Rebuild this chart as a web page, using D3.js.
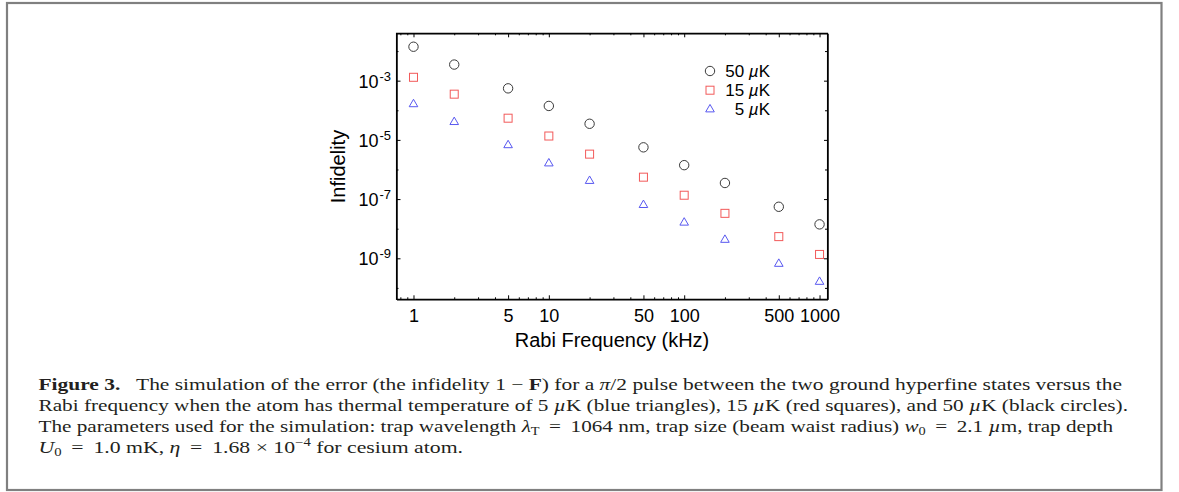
<!DOCTYPE html>
<html>
<head>
<meta charset="utf-8">
<script src="https://cdn.jsdelivr.net/npm/d3@7"></script>
<style>
  body { margin: 0; background: #fff; }
  svg { display: block; }
  .axis path, .axis line { stroke: #000; }
  .axis text { font-family: "Liberation Sans", Arial, sans-serif; font-size: 18px; fill: #000; }
</style>
</head>
<body>
<div id="chart"></div>
<script>
// Rabi frequency (kHz) for every simulated point
const rabiFreq = [1, 2, 5, 10, 20, 50, 100, 200, 500, 1000];

// Infidelity, one array per temperature
const infid50uK = [1.4e-2, 3.5e-3, 5.5e-4, 1.4e-4, 3.5e-5, 5.6e-6, 1.4e-6, 3.5e-7, 5.5e-8, 1.4e-8];
const infid15uK = [1.3e-3, 3.5e-4, 5.4e-5, 1.35e-5, 3.3e-6, 5.5e-7, 1.35e-7, 3.3e-8, 5.4e-9, 1.35e-9];
const infid5uK  = [1.6e-4, 4.0e-5, 6.6e-6, 1.6e-6, 4.1e-7, 6.3e-8, 1.6e-8, 4.2e-9, 6.5e-10, 1.6e-10];

// axis ticks
const xTickLabels = [1, 5, 10, 50, 100, 500, 1000];
const yTickExponents = [-3, -5, -7, -9];
const yMinorExponents = [-2, -4, -6, -8, -10];

const legendLabels = ["50 \u00b5K", "15 \u00b5K", "5 \u00b5K"];

const width = 1179, height = 492;
const margin = { left: 396.5, right: 1179 - 827.5, top: 33.3, bottom: 492 - 299.3 };

const svg = d3.select("#chart").append("svg")
    .attr("width", width)
    .attr("height", height);

// figure frame
svg.append("rect")
    .attr("x", 7).attr("y", 3)
    .attr("width", 1154.5).attr("height", 487)
    .attr("fill", "none")
    .attr("stroke", "#808080")
    .attr("stroke-width", 2.2);

const x = d3.scaleLog()
    .domain([0.749, 1145])
    .range([margin.left, width - margin.right]);

const y = d3.scaleLog()
    .domain([Math.pow(10, -10.385), Math.pow(10, -1.4)])
    .range([height - margin.bottom, margin.top]);

// minor x ticks: 1..9 in each decade
const xMinor = [];
for (let d = -1; d <= 3; d++) {
    for (let k = 1; k <= 9; k++) {
        const v = k * Math.pow(10, d);
        if (v >= x.domain()[0] && v <= x.domain()[1] && xTickLabels.indexOf(v) < 0) xMinor.push(v);
    }
}
const yMajorVals = yTickExponents.map(e => Math.pow(10, e));
const yMinorVals = yMinorExponents.map(e => Math.pow(10, e));

const plotBottom = height - margin.bottom;
const plotRight = width - margin.right;

// bottom axis
svg.append("g").attr("class", "axis")
    .attr("transform", `translate(0,${plotBottom})`)
    .call(d3.axisBottom(x).tickValues(xMinor).tickSizeInner(-2).tickSizeOuter(0).tickFormat(""));
svg.append("g").attr("class", "axis")
    .attr("transform", `translate(0,${plotBottom})`)
    .call(d3.axisBottom(x).tickValues(xTickLabels).tickSizeInner(-4).tickSizeOuter(0)
        .tickPadding(10).tickFormat(d3.format("d")));

// top axis (mirror, no labels)
svg.append("g").attr("class", "axis")
    .attr("transform", `translate(0,${margin.top})`)
    .call(d3.axisTop(x).tickValues(xMinor).tickSizeInner(-2).tickSizeOuter(0).tickFormat(""));
svg.append("g").attr("class", "axis")
    .attr("transform", `translate(0,${margin.top})`)
    .call(d3.axisTop(x).tickValues(xTickLabels).tickSizeInner(-4).tickSizeOuter(0).tickFormat(""));

// left axis
svg.append("g").attr("class", "axis")
    .attr("transform", `translate(${margin.left},0)`)
    .call(d3.axisLeft(y).tickValues(yMinorVals).tickSizeInner(-2).tickSizeOuter(0).tickFormat(""));
const yAxisG = svg.append("g").attr("class", "axis")
    .attr("transform", `translate(${margin.left},0)`)
    .call(d3.axisLeft(y).tickValues(yMajorVals).tickSizeInner(-4).tickSizeOuter(0).tickPadding(5.5));

yAxisG.selectAll(".tick text")
    .attr("dy", "0.37em")
    .style("font-size", "18px")
    .text(null)
    .each(function(d) {
        const t = d3.select(this);
        t.append("tspan").style("font-size", "18px").text("10");
        t.append("tspan")
            .attr("dx", 1)
            .attr("dy", -7)
            .style("font-size", "13px")
            .text("-" + Math.round(-Math.log10(d)));
    });

// right axis (mirror)
svg.append("g").attr("class", "axis")
    .attr("transform", `translate(${plotRight},0)`)
    .call(d3.axisRight(y).tickValues(yMinorVals).tickSizeInner(-2.5).tickSizeOuter(0).tickFormat(""));
svg.append("g").attr("class", "axis")
    .attr("transform", `translate(${plotRight},0)`)
    .call(d3.axisRight(y).tickValues(yMajorVals).tickSizeInner(-3.5).tickSizeOuter(0).tickFormat(""));

// plot frame
svg.append("rect")
    .attr("x", margin.left).attr("y", margin.top)
    .attr("width", plotRight - margin.left)
    .attr("height", plotBottom - margin.top)
    .attr("fill", "none")
    .attr("stroke", "#000")
    .attr("stroke-width", 1.1);

// axis titles
svg.append("text")
    .attr("x", 612)
    .attr("y", 347)
    .attr("text-anchor", "middle")
    .attr("font-family", "Liberation Sans, Arial, sans-serif")
    .attr("font-size", 20)
    .text("Rabi Frequency (kHz)");

svg.append("text")
    .attr("transform", "translate(345,166.5) rotate(-90)")
    .attr("text-anchor", "middle")
    .attr("font-family", "Liberation Sans, Arial, sans-serif")
    .attr("font-size", 20)
    .text("Infidelity");

// data markers
const circleColor = "#3a3a3a", squareColor = "#f25a5a", triColor = "#5858f0";
const pts = g => g.attr("fill", "none").attr("stroke-width", 1);

svg.append("g").selectAll("circle")
    .data(rabiFreq.map((f, i) => [f, infid50uK[i]]))
    .join("circle")
    .attr("cx", d => x(d[0])).attr("cy", d => y(d[1]))
    .attr("r", 4.7)
    .attr("stroke", circleColor)
    .call(pts);

svg.append("g").selectAll("rect")
    .data(rabiFreq.map((f, i) => [f, infid15uK[i]]))
    .join("rect")
    .attr("x", d => x(d[0]) - 4).attr("y", d => y(d[1]) - 4)
    .attr("width", 8).attr("height", 8)
    .attr("stroke", squareColor)
    .call(pts);

const tri = d3.symbol().type(d3.symbolTriangle).size(32);
svg.append("g").selectAll("path")
    .data(rabiFreq.map((f, i) => [f, infid5uK[i]]))
    .join("path")
    .attr("d", tri)
    .attr("transform", d => `translate(${x(d[0])},${y(d[1])})`)
    .attr("stroke", triColor)
    .call(pts);

// legend
const legend = svg.append("g").attr("transform", "translate(710,71)");
const legendColors = [circleColor, squareColor, triColor];
legendLabels.forEach((lab, i) => {
    const row = legend.append("g").attr("transform", `translate(0,${i * 19.2})`);
    if (i === 0) row.append("circle").attr("r", 4.7);
    else if (i === 1) row.append("rect").attr("x", -4).attr("y", -4).attr("width", 8).attr("height", 8);
    else row.append("path").attr("d", tri);
    row.selectAll("circle,rect,path").attr("stroke", legendColors[i]).call(pts);
    const parts = lab.split("\u00b5");
    const t = row.append("text")
        .attr("x", 60).attr("y", 6)
        .attr("text-anchor", "end")
        .attr("font-family", "Liberation Sans, Arial, sans-serif")
        .attr("font-size", 17);
    t.append("tspan").text(parts[0]);
    t.append("tspan").attr("font-style", "italic").text("\u00b5");
    t.append("tspan").text(parts[1]);
});

// caption
const captionLines = [
    [["Figure 3.", "b"], ["\u2002 The simulation of the error (the infidelity 1 \u2212 ", ""], ["F", "b"], [") for a ", ""], ["\u03c0", "i"], ["/2 pulse between the two ground hyperfine states versus the", ""]],
    [["Rabi frequency when the atom has thermal temperature of 5 ", ""], ["\u00b5", "i"], ["K (blue triangles), 15 ", ""], ["\u00b5", "i"], ["K (red squares), and 50 ", ""], ["\u00b5", "i"], ["K (black circles).", ""]],
    [["The parameters used for the simulation: trap wavelength ", ""], ["\u03bb", "i"], ["T", "sub"], [" \u2009=\u2009 1064 nm, trap size (beam waist radius) ", ""], ["w", "i"], ["0", "sub"], [" \u2009=\u2009 2.1 ", ""], ["\u00b5", "i"], ["m, trap depth", ""]],
    [["U", "i"], ["0", "sub"], [" \u2009=\u2009 1.0 mK, ", ""], ["\u03b7", "i"], [" \u2009=\u2009 1.68 \u00d7 10", ""], ["\u22124", "sup"], [" for cesium atom.", ""]]
];
const captionEnds = [1122, 1128, 1113, 463];
const captionBaselines = [389.5, 410.5, 431.5, 452.5];
const capX = 38.5;

captionLines.forEach((line, li) => {
    const t = svg.append("text")
        .attr("x", capX).attr("y", captionBaselines[li])
        .attr("font-family", "Liberation Serif, Times New Roman, serif")
        .attr("font-size", 17)
        .attr("fill", "#231f20");
    let reset = null;
    line.forEach(([s, style]) => {
        const sp = t.append("tspan").text(s);
        if (reset !== null) { sp.attr("dy", reset); reset = null; }
        if (style === "b") sp.attr("font-weight", "bold");
        if (style === "i") sp.attr("font-style", "italic");
        if (style === "sub") { sp.attr("font-size", 11.5).attr("dy", 3); reset = -3; }
        if (style === "sup") { sp.attr("font-size", 11.5).attr("dy", -7); reset = 7; }
    });
    t.attr("textLength", captionEnds[li] - capX)
        .attr("lengthAdjust", "spacingAndGlyphs");
});
</script>
</body>
</html>
